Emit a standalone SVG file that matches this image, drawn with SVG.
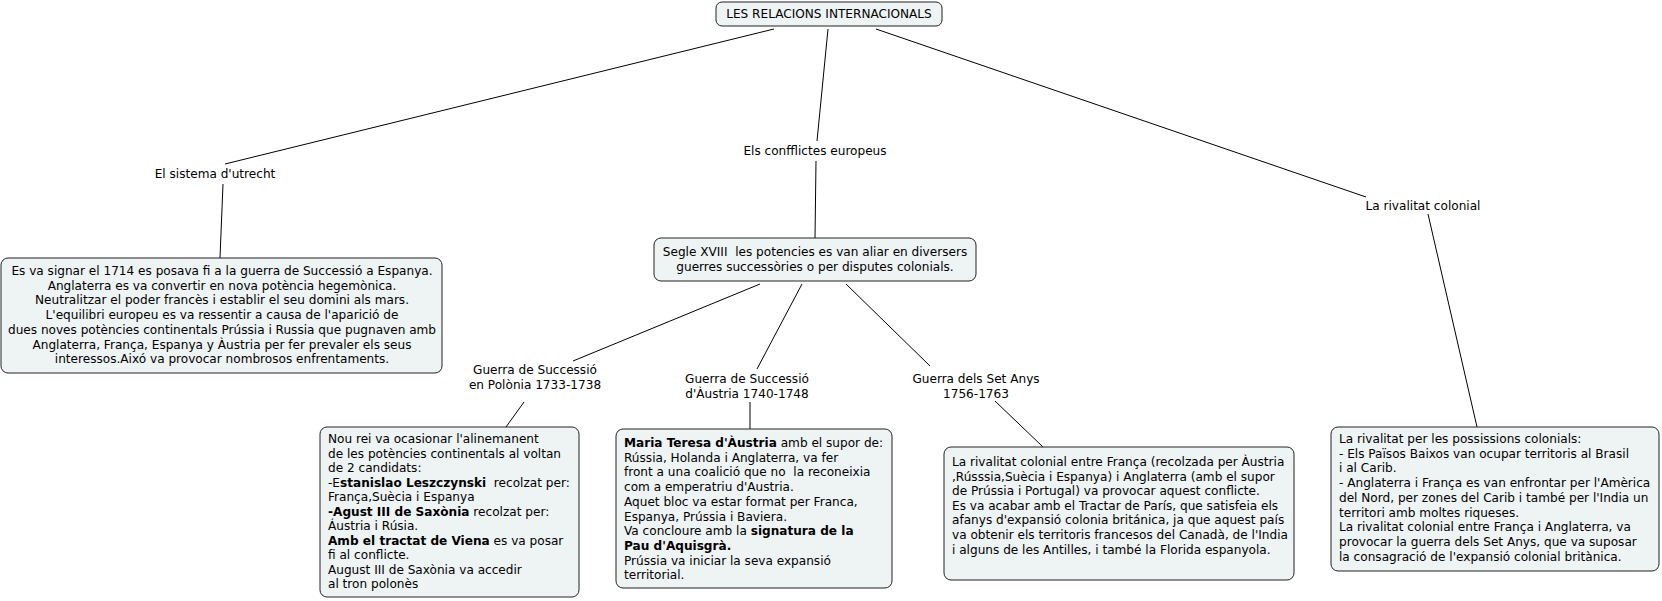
<svg xmlns="http://www.w3.org/2000/svg" width="1662" height="601" viewBox="0 0 1662 601">
<style>
text{font-family:"DejaVu Sans",Verdana,sans-serif;font-size:12.1px;fill:#000;white-space:pre}
.box{fill:#eef3f4;stroke:#222;stroke-width:1}
.c{text-anchor:middle}
.b{font-weight:bold}
#connectors line{stroke:#000;stroke-width:1}
</style>
<rect width="1662" height="601" fill="#fff"/>
<g id="connectors">
<line x1="774" y1="29" x2="225" y2="164"/>
<line x1="223" y1="184" x2="220" y2="258"/>
<line x1="828" y1="29" x2="817" y2="141"/>
<line x1="816" y1="161" x2="815" y2="238"/>
<line x1="876" y1="29" x2="1366" y2="197"/>
<line x1="1428" y1="214" x2="1477" y2="427"/>
<line x1="760" y1="284" x2="573" y2="361"/>
<line x1="524" y1="402" x2="506" y2="427"/>
<line x1="802" y1="284" x2="757" y2="369"/>
<line x1="750" y1="402" x2="750" y2="429"/>
<line x1="846" y1="284" x2="930" y2="366"/>
<line x1="995" y1="401" x2="1043" y2="447"/>
</g>
<g id="root">
<rect class="box" x="716" y="2" width="226" height="24" rx="6"/>
<text class="c" x="829" y="18">LES RELACIONS INTERNACIONALS</text>
</g>
<g id="utrecht">
<text class="c" x="215" y="178">El sistema d'utrecht</text>
</g>
<g id="utrecht-box">
<rect class="box" x="1" y="258" width="441" height="115" rx="7"/>
<text class="c" x="222" y="275">Es va signar el 1714 es posava fi a la guerra de Successió a Espanya.</text>
<text class="c" x="222" y="289.7">Anglaterra es va convertir en nova potència hegemònica.</text>
<text class="c" x="222" y="304.4">Neutralitzar el poder francès i establir el seu domini als mars.</text>
<text class="c" x="222" y="319.1">L'equilibri europeu es va ressentir a causa de l'aparició de</text>
<text class="c" x="222" y="333.8">dues noves potències continentals Prússia i Russia que pugnaven amb</text>
<text class="c" x="222" y="348.5">Anglaterra, França, Espanya y Àustria per fer prevaler els seus</text>
<text class="c" x="222" y="363.2">interessos.Aixó va provocar nombrosos enfrentaments.</text>
</g>
<g id="conflictes">
<text class="c" x="815" y="155">Els confflictes europeus</text>
</g>
<g id="segle">
<rect class="box" x="654" y="238" width="322" height="43" rx="7"/>
<text class="c" x="815" y="256">Segle XVIII  les potencies es van aliar en diversers</text>
<text class="c" x="815" y="270.7">guerres successòries o per disputes colonials.</text>
</g>
<g id="rivalitat">
<text class="c" x="1423" y="210">La rivalitat colonial</text>
</g>
<g id="rivalitat-box">
<rect class="box" x="1331" y="427" width="328" height="144" rx="7"/>
<text x="1339" y="443">La rivalitat per les possissions colonials:</text>
<text x="1339" y="457.7">- Els Països Baixos van ocupar territoris al Brasil</text>
<text x="1339" y="472.4">i al Carib.</text>
<text x="1339" y="487.1">- Anglaterra i França es van enfrontar per l'Amèrica</text>
<text x="1339" y="501.8">del Nord, per zones del Carib i també per l'India un</text>
<text x="1339" y="516.5">territori amb moltes riqueses.</text>
<text x="1339" y="531.2">La rivalitat colonial entre França i Anglaterra, va</text>
<text x="1339" y="545.9">provocar la guerra dels Set Anys, que va suposar</text>
<text x="1339" y="560.6">la consagració de l'expansió colonial britànica.</text>
</g>
<g id="polonia">
<text class="c" x="535" y="374">Guerra de Successió</text>
<text class="c" x="535" y="389">en Polònia 1733-1738</text>
</g>
<g id="polonia-box">
<rect class="box" x="320" y="427" width="259" height="170" rx="7"/>
<text x="328" y="443">Nou rei va ocasionar l'alinemanent</text>
<text x="328" y="457.5">de les potències continentals al voltan</text>
<text x="328" y="472">de 2 candidats:</text>
<text x="328" y="486.5">-E<tspan class="b">stanislao Leszczynski</tspan>  recolzat per:</text>
<text x="328" y="501">França,Suècia i Espanya</text>
<text x="328" y="515.5"><tspan class="b">-Agust III de Saxònia</tspan> recolzat per:</text>
<text x="328" y="530">Áustria i Rúsia.</text>
<text x="328" y="544.5"><tspan class="b">Amb el tractat de Viena</tspan> es va posar</text>
<text x="328" y="559">fi al conflicte.</text>
<text x="328" y="573.5">August III de Saxònia va accedir</text>
<text x="328" y="588">al tron polonès</text>
</g>
<g id="austria">
<text class="c" x="747" y="383">Guerra de Successió</text>
<text class="c" x="747" y="398">d'Àustria 1740-1748</text>
</g>
<g id="austria-box">
<rect class="box" x="616" y="429" width="276" height="159" rx="7"/>
<text x="624" y="447"><tspan class="b">Maria Teresa d'Àustria</tspan> amb el supor de:</text>
<text x="624" y="461.7">Rússia, Holanda i Anglaterra, va fer</text>
<text x="624" y="476.4">front a una coalició que no  la reconeixia</text>
<text x="624" y="491.1">com a emperatriu d'Austria.</text>
<text x="624" y="505.8">Aquet bloc va estar format per Franca,</text>
<text x="624" y="520.5">Espanya, Prússia i Baviera.</text>
<text x="624" y="535.2">Va concloure amb la <tspan class="b">signatura de la</tspan></text>
<text x="624" y="549.9" class="b">Pau d'Aquisgrà.</text>
<text x="624" y="564.6">Prússia va iniciar la seva expansió</text>
<text x="624" y="579.3">territorial.</text>
</g>
<g id="setanys">
<text class="c" x="976" y="383">Guerra dels Set Anys</text>
<text class="c" x="976" y="398">1756-1763</text>
</g>
<g id="setanys-box">
<rect class="box" x="944" y="447" width="350" height="133" rx="7"/>
<text x="952" y="466">La rivalitat colonial entre França (recolzada per Àustria</text>
<text x="952" y="480.6">,Rússsia,Suècia i Espanya) i Anglaterra (amb el supor</text>
<text x="952" y="495.2">de Prússia i Portugal) va provocar aquest conflicte.</text>
<text x="952" y="509.8">Es va acabar amb el Tractar de París, que satisfeia els</text>
<text x="952" y="524.4">afanys d'expansió colonia británica, ja que aquest país</text>
<text x="952" y="539">va obtenir els territoris francesos del Canadà, de l'India</text>
<text x="952" y="553.6">i alguns de les Antilles, i també la Florida espanyola.</text>
</g>
</svg>
